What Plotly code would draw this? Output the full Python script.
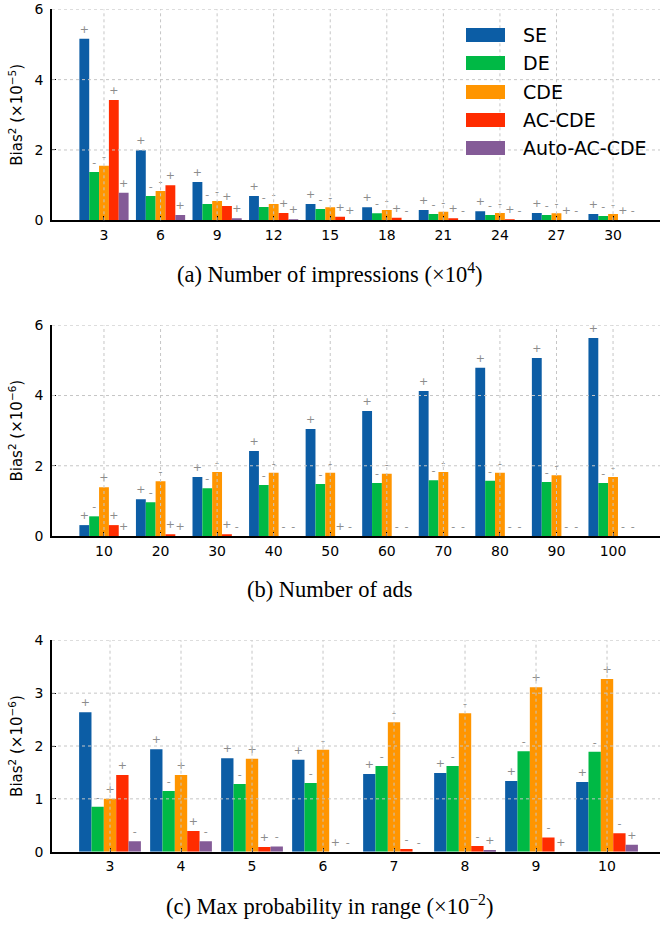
import plotly.graph_objects as go

W, H = 660, 925

series_names = ["SE", "DE", "CDE", "AC-CDE", "Auto-AC-CDE"]
colors = ["#0C5DA5", "#00B945", "#FF9500", "#FF2C00", "#845B97"]

# ---------- panel (a): number of impressions (x10^4), Bias^2 (x10^-5)
imp_labels = ["3", "6", "9", "12", "15", "18", "21", "24", "27", "30"]
se_a = [5.16, 1.99, 1.09, 0.69, 0.46, 0.37, 0.29, 0.26, 0.21, 0.18]
de_a = [1.37, 0.69, 0.46, 0.38, 0.32, 0.20, 0.18, 0.15, 0.15, 0.12]
cde_a = [1.55, 0.83, 0.55, 0.46, 0.37, 0.29, 0.24, 0.21, 0.20, 0.18]
ac_a = [3.42, 1.00, 0.41, 0.21, 0.10, 0.07, 0.03, 0.01, 0.0, 0.0]
auto_a = [0.78, 0.15, 0.03, 0.01, 0.0, 0.0, 0.0, 0.0, 0.0, 0.0]
se_a_sign = ["+"] * 10
de_a_sign = ["-"] * 10
cde_a_sign = ["-"] * 10
ac_a_sign = ["+"] * 10
auto_a_sign = ["+", "+", "+", "+", "+", "-", "-", "-", "-", "-"]

# ---------- panel (b): number of ads, Bias^2 (x10^-6)
ads_labels = ["10", "20", "30", "40", "50", "60", "70", "80", "90", "100"]
se_b = [0.31, 1.05, 1.68, 2.42, 3.05, 3.56, 4.13, 4.79, 5.07, 5.64]
de_b = [0.56, 0.96, 1.36, 1.45, 1.48, 1.51, 1.59, 1.57, 1.54, 1.51]
cde_b = [1.39, 1.56, 1.82, 1.80, 1.80, 1.77, 1.82, 1.80, 1.73, 1.68]
ac_b = [0.31, 0.05, 0.05, 0.0, 0.0, 0.0, 0.0, 0.0, 0.0, 0.0]
auto_b = [0.0] * 10
se_b_sign = ["+"] * 10
de_b_sign = ["-"] * 10
cde_b_sign = ["+", "-", "-", "-", "-", "-", "-", "-", "-", "-"]
ac_b_sign = ["+", "+", "+", "-", "+", "-", "-", "-", "-", "-"]
auto_b_sign = ["+", "+", "-", "-", "-", "-", "-", "-", "-", "-"]

# ---------- panel (c): max probability in range (x10^-2), Bias^2 (x10^-6)
prob_labels = ["3", "4", "5", "6", "7", "8", "9", "10"]
se_c = [2.64, 1.94, 1.77, 1.74, 1.47, 1.49, 1.34, 1.32]
de_c = [0.85, 1.15, 1.28, 1.30, 1.62, 1.62, 1.90, 1.89]
cde_c = [1.00, 1.45, 1.76, 1.93, 2.45, 2.62, 3.11, 3.27]
ac_c = [1.45, 0.39, 0.09, 0.0, 0.05, 0.11, 0.27, 0.35]
auto_c = [0.20, 0.20, 0.10, 0.0, 0.0, 0.03, 0.0, 0.13]
se_c_sign = ["+"] * 8
de_c_sign = ["-"] * 8
cde_c_sign = ["+", "+", "+", "-", "-", "-", "+", "+"]
ac_c_sign = ["+", "+", "+", "+", "-", "-", "-", "-"]
auto_c_sign = ["-", "-", "-", "-", "-", "+", "+", "+"]

y_ticks_a = [0, 2, 4, 6]
y_ticks_b = [0, 2, 4, 6]
y_ticks_c = [0, 1, 2, 3, 4]

captions = [
    "(a) Number of impressions (×10<sup>4</sup>)",
    "(b) Number of ads",
    "(c) Max probability in range (×10<sup>−2</sup>)",
]
ytitles = [
    "Bias<sup>2</sup> (×10<sup>−5</sup>)",
    "Bias<sup>2</sup> (×10<sup>−6</sup>)",
    "Bias<sup>2</sup> (×10<sup>−6</sup>)",
]

panels = [
    dict(labels=imp_labels, vals=[se_a, de_a, cde_a, ac_a, auto_a],
         signs=[se_a_sign, de_a_sign, cde_a_sign, ac_a_sign, auto_a_sign],
         yrange=[0, 6], yticks=y_ticks_a, top=9.3, bottom=220.3,
         xrange=[-0.919, 9.83]),
    dict(labels=ads_labels, vals=[se_b, de_b, cde_b, ac_b, auto_b],
         signs=[se_b_sign, de_b_sign, cde_b_sign, ac_b_sign, auto_b_sign],
         yrange=[0, 6], yticks=y_ticks_b, top=325.3, bottom=536.0,
         xrange=[-0.919, 9.83]),
    dict(labels=prob_labels, vals=[se_c, de_c, cde_c, ac_c, auto_c],
         signs=[se_c_sign, de_c_sign, cde_c_sign, ac_c_sign, auto_c_sign],
         yrange=[0, 4], yticks=y_ticks_c, top=640.3, bottom=851.7,
         xrange=[-0.817, 7.746]),
]

LEFT = 52.0
FONT = "DejaVu Sans"
SERIF = "Liberation Serif"
GRID = dict(color="#c6c6c6", width=1, dash="dot")

fig = go.Figure()
shapes = []
annotations = []
layout_axes = {}

for k, p in enumerate(panels):
    sfx = "" if k == 0 else str(k + 1)
    xa, ya = "x" + sfx, "y" + sfx
    for s in range(5):
        fig.add_trace(go.Bar(
            x=p["labels"], y=p["vals"][s], name=series_names[s],
            marker=dict(color=colors[s], line=dict(width=0)),
            text=p["signs"][s], textposition="outside",
            textfont=dict(color="#8c8c8c", size=11, family=FONT),
            constraintext="none", cliponaxis=False, textangle=0,
            xaxis=xa, yaxis=ya, showlegend=False,
        ))
    dom_y = [1 - p["bottom"] / H, 1 - p["top"] / H]
    layout_axes["xaxis" + sfx] = dict(
        domain=[LEFT / W, 1], anchor=ya, type="category", range=p["xrange"],
        showline=True, linecolor="black", linewidth=1.8, ticks="inside",
        ticklen=4, tickcolor="black", showgrid=False, zeroline=False,
        tickfont=dict(size=14, family=FONT, color="black"),
        ticklabelstandoff=1,
    )
    layout_axes["yaxis" + sfx] = dict(
        domain=dom_y, anchor=xa, range=p["yrange"], tickvals=p["yticks"],
        showline=True, linecolor="black", linewidth=1.5, ticks="inside",
        ticklen=4, tickcolor="black", showgrid=False, zeroline=False,
        tickfont=dict(size=14, family=FONT, color="black"),
        ticklabelstandoff=4,
        title=dict(text=ytitles[k], font=dict(size=15, family=FONT, color="black"),
                   standoff=8),
    )
    # grid lines drawn above bars
    for i in range(len(p["labels"])):
        shapes.append(dict(type="line", xref=xa, yref=ya + " domain",
                           x0=i, x1=i, y0=0, y1=1, line=GRID, layer="above"))
    for t in p["yticks"][1:]:
        shapes.append(dict(type="line", xref=xa + " domain", yref=ya,
                           x0=0, x1=1, y0=t, y1=t, line=GRID, layer="above"))
    annotations.append(dict(
        text=captions[k], xref="paper", yref="paper", x=330 / W,
        y=1 - (p["bottom"] + 53) / H, xanchor="center", yanchor="middle",
        showarrow=False, font=dict(size=22.5, family=SERIF, color="black"),
    ))

# legend drawn in panel (a)
row_c = [35, 63, 92, 120, 148]
for s in range(5):
    shapes.append(dict(type="rect", xref="paper", yref="paper",
                       x0=466 / W, x1=505 / W,
                       y0=1 - (row_c[s] + 7) / H, y1=1 - (row_c[s] - 7) / H,
                       fillcolor=colors[s], line=dict(width=0), layer="above"))
    annotations.append(dict(
        text=series_names[s], xref="paper", yref="paper", x=521 / W,
        y=1 - row_c[s] / H, xanchor="left", yanchor="middle", showarrow=False,
        font=dict(size=19, family=FONT, color="black"),
    ))

fig.update_layout(
    width=W, height=H, template="none",
    margin=dict(l=0, r=0, t=0, b=0),
    paper_bgcolor="white", plot_bgcolor="white",
    barmode="group", bargap=0.13, bargroupgap=0,
    font=dict(family=FONT, color="black"),
    shapes=shapes, annotations=annotations, showlegend=False,
    **layout_axes,
)

fig.write_html("out.html")
